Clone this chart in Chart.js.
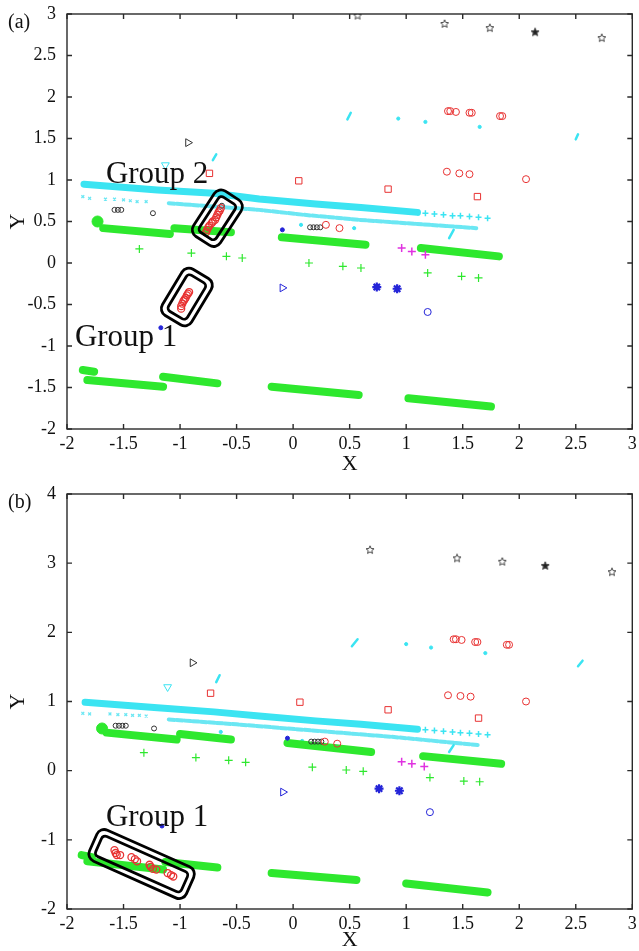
<!DOCTYPE html>
<html>
<head>
<meta charset="utf-8">
<script src="https://cdn.jsdelivr.net/npm/chart.js@4.4.0/dist/chart.umd.min.js"></script>
<style>
  html, body { margin: 0; padding: 0; background: #fff; }
  #wrap { position: relative; width: 639px; height: 951px; overflow: hidden; }
  canvas { position: absolute; left: 0; }
  #chartA { top: 0; }
  #chartB { top: 475px; }
</style>
</head>
<body>
<div id="wrap">
  <canvas id="chartA" width="639" height="475"></canvas>
  <canvas id="chartB" width="639" height="476"></canvas>
</div>
<script>
// ---- tick labels ----
const xTicks = [-2, -1.5, -1, -0.5, 0, 0.5, 1, 1.5, 2, 2.5, 3];
const xTickLabels = ['-2', '-1.5', '-1', '-0.5', '0', '0.5', '1', '1.5', '2', '2.5', '3'];
const yTicksA = [-2, -1.5, -1, -0.5, 0, 0.5, 1, 1.5, 2, 2.5, 3];
const yTickLabelsA = ['-2', '-1.5', '-1', '-0.5', '0', '0.5', '1', '1.5', '2', '2.5', '3'];
const yTicksB = [-2, -1, 0, 1, 2, 3, 4];
const yTickLabelsB = ['-2', '-1', '0', '1', '2', '3', '4'];

// ---- panel (a) data ----
const aUpperBand = [[-1.85, 0.95], [-1.2, 0.88], [-0.7, 0.84], [-0.3, 0.77], [0.2, 0.71], [0.6, 0.67], [1.1, 0.61]];
const aUpperCross = [[1.17, 0.60], [1.25, 0.59], [1.33, 0.58], [1.41, 0.57], [1.48, 0.57], [1.56, 0.56], [1.64, 0.55], [1.72, 0.54]];
const aLowerSparse = [[-1.86, 0.80], [-1.80, 0.78], [-1.66, 0.77], [-1.58, 0.77], [-1.50, 0.76], [-1.44, 0.75], [-1.38, 0.74], [-1.30, 0.74]];
const aLowerBand = [[-1.1, 0.72], [-0.7, 0.68], [-0.3, 0.64], [0.1, 0.58], [0.58, 0.52], [1.1, 0.47], [1.62, 0.42]];
const aCyanDots = [[0.93, 1.74], [1.17, 1.70], [1.65, 1.64], [0.07, 0.46], [0.54, 0.42]];
const aCyanDashes = [[-0.71, 1.24, -0.68, 1.31], [0.48, 1.73, 0.51, 1.81], [2.50, 1.49, 2.52, 1.55], [1.38, 0.30, 1.42, 0.40]];
const aGreenSegs = [
  [-1.68, 0.42, -1.09, 0.35], [-1.05, 0.42, -0.55, 0.37], [-0.10, 0.31, 0.64, 0.22], [1.13, 0.18, 1.82, 0.08],
  [-1.86, -1.29, -1.76, -1.31], [-1.82, -1.41, -1.15, -1.49], [-1.15, -1.37, -0.67, -1.45],
  [-0.19, -1.49, 0.58, -1.59], [1.02, -1.63, 1.75, -1.73]
];
const aGreenBlobs = [[-1.73, 0.50]];
const aGreenPlus = [[-1.36, 0.17], [-0.90, 0.12], [-0.59, 0.08], [-0.45, 0.06], [0.14, 0.0], [0.44, -0.04], [0.60, -0.06], [1.19, -0.12], [1.49, -0.16], [1.64, -0.18]];
const aMagentaPlus = [[0.96, 0.18], [1.05, 0.14], [1.17, 0.10]];
const aBlueStars = [[0.74, -0.29], [0.92, -0.31]];
const aBlueCircles = [[1.19, -0.59]];
const aBlueTriangles = [[-0.095, -0.30]];
const aBlueDots = [[-0.095, 0.40], [-1.17, -0.78]];
const aBlackTriangles = [[-0.93, 1.45]];
const aCyanTriangles = [[-1.13, 1.18]];
const aStars = [[0.57, 2.98], [1.34, 2.88], [1.74, 2.83], [2.73, 2.71]];
const aStarsFilled = [[2.14, 2.78]];
const aRedSquares = [[-0.74, 1.08], [0.05, 0.99], [0.84, 0.89], [1.63, 0.80]];
const aRedCircles = [[1.37, 1.83], [1.39, 1.83], [1.44, 1.82], [1.56, 1.81], [1.58, 1.81], [1.83, 1.77], [1.85, 1.77],
  [1.36, 1.10], [1.47, 1.08], [1.56, 1.07], [2.06, 1.01], [0.29, 0.46], [0.41, 0.42]];
const aGroup2Red = [[-0.77, 0.37], [-0.76, 0.40], [-0.75, 0.43], [-0.74, 0.45], [-0.72, 0.48], [-0.71, 0.50], [-0.69, 0.52],
  [-0.68, 0.55], [-0.67, 0.58], [-0.66, 0.61], [-0.65, 0.63], [-0.64, 0.66]];
const aGroup1Red = [[-0.99, -0.55], [-0.99, -0.52], [-0.98, -0.49], [-0.97, -0.46], [-0.96, -0.44], [-0.95, -0.42], [-0.94, -0.39], [-0.93, -0.37], [-0.92, -0.35]];
const aBlackCircles = [[-1.58, 0.64], [-1.55, 0.64], [-1.52, 0.64], [-1.24, 0.60], [0.15, 0.43], [0.18, 0.43], [0.21, 0.43], [0.24, 0.43], [-0.63, 0.69]];

// ---- panel (b) data ----
const bUpperBand = [[-1.84, 0.99], [-1.2, 0.91], [-0.7, 0.85], [-0.3, 0.79], [0.2, 0.72], [0.6, 0.67], [1.1, 0.60]];
const bUpperCross = [[1.17, 0.59], [1.25, 0.58], [1.33, 0.57], [1.41, 0.56], [1.48, 0.55], [1.56, 0.54], [1.64, 0.53], [1.72, 0.52]];
const bLowerSparse = [[-1.86, 0.83], [-1.80, 0.82], [-1.62, 0.82], [-1.55, 0.81], [-1.48, 0.81], [-1.42, 0.80], [-1.36, 0.80], [-1.30, 0.79]];
const bLowerBand = [[-1.1, 0.74], [-0.5, 0.67], [0.1, 0.59], [0.87, 0.49], [1.64, 0.37]];
const bCyanDots = [[1.0, 1.83], [1.22, 1.78], [1.70, 1.70], [0.08, 0.43], [-0.64, 0.56]];
const bCyanDashes = [[-0.68, 1.28, -0.65, 1.38], [0.52, 1.80, 0.57, 1.90], [2.52, 1.51, 2.56, 1.59], [1.38, 0.27, 1.42, 0.37]];
const bGreenSegs = [
  [-1.65, 0.55, -1.03, 0.45], [-1.0, 0.53, -0.55, 0.45], [-0.05, 0.40, 0.69, 0.27], [1.15, 0.21, 1.84, 0.10],
  [-1.87, -1.22, -1.78, -1.25], [-1.82, -1.31, -1.15, -1.43], [-1.13, -1.32, -0.67, -1.40],
  [-0.19, -1.48, 0.56, -1.58], [1.00, -1.63, 1.72, -1.76]
];
const bGreenBlobs = [[-1.69, 0.61]];
const bGreenPlus = [[-1.32, 0.26], [-0.86, 0.19], [-0.57, 0.15], [-0.42, 0.12], [0.17, 0.05], [0.47, 0.01], [0.62, -0.01], [1.21, -0.10], [1.51, -0.15], [1.65, -0.16]];
const bMagentaPlus = [[0.96, 0.13], [1.05, 0.10], [1.16, 0.06]];
const bBlueStars = [[0.76, -0.26], [0.94, -0.29]];
const bBlueCircles = [[1.21, -0.60]];
const bBlueTriangles = [[-0.09, -0.31]];
const bBlueDots = [[-0.05, 0.47], [-1.16, -0.80]];
const bBlackTriangles = [[-0.89, 1.56]];
const bCyanTriangles = [[-1.11, 1.21]];
const bStars = [[0.68, 3.19], [1.45, 3.07], [1.85, 3.02], [2.82, 2.87]];
const bStarsFilled = [[2.23, 2.96]];
const bRedSquares = [[-0.73, 1.12], [0.06, 0.99], [0.84, 0.88], [1.64, 0.76]];
const bRedCircles = [[1.42, 1.90], [1.44, 1.90], [1.49, 1.89], [1.61, 1.86], [1.63, 1.86], [1.89, 1.82], [1.91, 1.82],
  [1.37, 1.09], [1.48, 1.08], [1.57, 1.07], [2.06, 1.00], [0.28, 0.42], [0.39, 0.39]];
const bGroup1Red = [[-1.58, -1.15], [-1.57, -1.19], [-1.56, -1.22], [-1.53, -1.22], [-1.43, -1.25], [-1.40, -1.28], [-1.38, -1.31],
  [-1.27, -1.36], [-1.26, -1.39], [-1.24, -1.42], [-1.21, -1.43], [-1.11, -1.48], [-1.08, -1.51], [-1.06, -1.53]];
const bBlackCircles = [[-1.57, 0.65], [-1.54, 0.65], [-1.51, 0.65], [-1.48, 0.65], [-1.23, 0.61], [0.16, 0.42], [0.19, 0.42], [0.22, 0.42], [0.25, 0.42]];

// ---- colours ----
const CYAN = '#3be4f2', CYAN_LOW = 'rgba(70,225,240,0.8)', GREEN = '#2ee82e', RED = '#e83232';
const BLUE = '#2424d8', MAGENTA = '#e032e0', DARK = '#333';

// pentagram marker (MATLAB 'p')
function starImg(filled) {
  const c = document.createElement('canvas');
  c.width = c.height = 10;
  const g = c.getContext('2d');
  g.beginPath();
  for (let i = 0; i < 10; i++) {
    const r = i % 2 ? 1.9 : 4.2;
    const a = -Math.PI / 2 + i * Math.PI / 5;
    g.lineTo(5 + r * Math.cos(a), 5 + r * Math.sin(a));
  }
  g.closePath();
  g.lineWidth = 1;
  g.strokeStyle = '#444';
  if (filled) { g.fillStyle = '#222'; g.fill(); }
  g.stroke();
  return c;
}
const STAR_OPEN = starImg(false), STAR_FILLED = starImg(true);

const pts = arr => arr.map(([x, y]) => ({ x, y }));

function marks(arr, style) {
  return Object.assign({ data: pts(arr), showLine: false, borderWidth: 1 }, style);
}
function line(arr, style) {
  return Object.assign({ data: pts(arr), showLine: true, pointRadius: 0, tension: 0, borderCapStyle: 'round', borderJoinStyle: 'round' }, style);
}
function segs(list, style) {
  return list.map(s => line([[s[0], s[1]], [s[2], s[3]]], style));
}

function buildDatasets(d) {
  const open = 'rgba(0,0,0,0)';
  return [
    // boxed groups and red circles on top
    marks(d.group, { pointStyle: 'circle', pointRadius: 3.5, borderColor: RED, backgroundColor: open, pointBorderWidth: 1.3 }),
    marks(d.redCircles, { pointStyle: 'circle', pointRadius: 3.5, borderColor: RED, backgroundColor: open }),
    marks(d.redSquares, { pointStyle: 'rect', pointRadius: 4.5, borderColor: RED, backgroundColor: open }),
    marks(d.blackCircles, { pointStyle: 'circle', pointRadius: 2.5, borderColor: DARK, backgroundColor: open }),
    marks(d.stars, { pointStyle: STAR_OPEN }),
    marks(d.starsFilled, { pointStyle: STAR_FILLED }),
    marks(d.blackTri, { pointStyle: 'triangle', rotation: 90, pointRadius: 4.5, borderColor: DARK, backgroundColor: open }),
    marks(d.cyanTri, { pointStyle: 'triangle', rotation: 180, pointRadius: 4.5, borderColor: CYAN, backgroundColor: open }),
    marks(d.blueStars, { pointStyle: 'star', pointRadius: 4.5, borderColor: BLUE, backgroundColor: BLUE, pointBorderWidth: 2.2 }),
    marks(d.blueCircles, { pointStyle: 'circle', pointRadius: 3.5, borderColor: BLUE, backgroundColor: open }),
    marks(d.blueTri, { pointStyle: 'triangle', rotation: 90, pointRadius: 4.5, borderColor: BLUE, backgroundColor: open }),
    marks(d.blueDots, { pointStyle: 'circle', pointRadius: 2, borderColor: BLUE, backgroundColor: BLUE }),
    marks(d.magenta, { pointStyle: 'cross', pointRadius: 4, borderColor: MAGENTA, pointBorderWidth: 1.5 }),
    marks(d.greenPlus, { pointStyle: 'cross', pointRadius: 4, borderColor: GREEN, pointBorderWidth: 1.2 }),
    marks(d.greenBlobs, { pointStyle: 'circle', pointRadius: 5.5, borderColor: GREEN, backgroundColor: GREEN }),
    ...segs(d.greenSegs, { borderColor: GREEN, borderWidth: 8 }),
    marks(d.cyanDots, { pointStyle: 'circle', pointRadius: 1.6, borderColor: CYAN, backgroundColor: CYAN }),
    ...segs(d.cyanDashes, { borderColor: CYAN, borderWidth: 2.5 }),
    marks(d.upperCross, { pointStyle: 'cross', pointRadius: 3, borderColor: CYAN, pointBorderWidth: 1.5 }),
    line(d.upperBand, { borderColor: CYAN, borderWidth: 7 }),
    marks(d.lowerSparse, { pointStyle: 'crossRot', pointRadius: 2, borderColor: CYAN_LOW, pointBorderWidth: 1.3 }),
    line(d.lowerBand, { borderColor: CYAN_LOW, borderWidth: 4, borderDash: [6, 2] })
  ];
}

function roundRect(ctx, x, y, w, h, r) {
  ctx.beginPath();
  ctx.moveTo(x + r, y);
  ctx.arcTo(x + w, y, x + w, y + h, r);
  ctx.arcTo(x + w, y + h, x, y + h, r);
  ctx.arcTo(x, y + h, x, y, r);
  ctx.arcTo(x, y, x + w, y, r);
  ctx.closePath();
}

// MATLAB style box, inward ticks, group boxes and notes
const framePlugin = {
  id: 'frame',
  afterDatasetsDraw(chart, args, o) {
    const { ctx, chartArea: ca, scales: { x, y } } = chart;
    ctx.save();
    ctx.strokeStyle = '#000';
    ctx.lineWidth = 2.8;
    o.boxes.forEach(b => {
      ctx.save();
      ctx.translate(x.getPixelForValue(b.x), y.getPixelForValue(b.y));
      ctx.rotate(-b.angle * Math.PI / 180);
      roundRect(ctx, -b.len / 2, -b.wid / 2, b.len, b.wid, 8);
      ctx.stroke();
      roundRect(ctx, -b.len / 2 + 6, -b.wid / 2 + 6, b.len - 12, b.wid - 12, 4);
      ctx.stroke();
      ctx.restore();
    });
    ctx.fillStyle = '#111';
    ctx.font = '31px "Liberation Serif"';
    ctx.textAlign = 'left';
    ctx.textBaseline = 'middle';
    o.notes.forEach(n => ctx.fillText(n.text, x.getPixelForValue(n.x), y.getPixelForValue(n.y)));

    ctx.strokeStyle = '#2a2a2a';
    ctx.lineWidth = 1.4;
    ctx.strokeRect(ca.left, ca.top, ca.width, ca.height);
    const t = 5;
    ctx.beginPath();
    x.ticks.forEach(tk => {
      const px = x.getPixelForValue(tk.value);
      ctx.moveTo(px, ca.bottom); ctx.lineTo(px, ca.bottom - t);
      ctx.moveTo(px, ca.top); ctx.lineTo(px, ca.top + t);
    });
    y.ticks.forEach(tk => {
      const py = y.getPixelForValue(tk.value);
      ctx.moveTo(ca.left, py); ctx.lineTo(ca.left + t, py);
      ctx.moveTo(ca.right, py); ctx.lineTo(ca.right - t, py);
    });
    ctx.stroke();

    ctx.font = '20px "Liberation Serif"';
    ctx.fillText(o.tag, 8, ca.top + 9);
    ctx.restore();
  }
};

function makeChart(id, datasets, yTicks, yLabels, pad, xHeight, frameOpts) {
  const font = { family: '"Liberation Serif", "Times New Roman", serif', size: 18 };
  const titleFont = { family: '"Liberation Serif", "Times New Roman", serif', size: 22, lineHeight: 1 };
  return new Chart(document.getElementById(id), {
    type: 'scatter',
    data: { datasets },
    options: {
      responsive: false,
      animation: false,
      layout: { padding: pad },
      plugins: { legend: { display: false }, tooltip: { enabled: false }, frame: frameOpts },
      scales: {
        x: {
          type: 'linear', min: -2, max: 3,
          afterBuildTicks: s => { s.ticks = xTicks.map(v => ({ value: v })); },
          afterFit: s => { s.height = xHeight; },
          grid: { display: false }, border: { display: false },
          ticks: { font, color: '#111', padding: -4, maxRotation: 0, autoSkip: false, callback: (v, i) => xTickLabels[i] },
          title: { display: true, text: 'X', font: titleFont, color: '#111', padding: { top: 0, bottom: 0 } }
        },
        y: {
          type: 'linear', min: yTicks[0], max: yTicks[yTicks.length - 1],
          afterBuildTicks: s => { s.ticks = yTicks.map(v => ({ value: v })); },
          afterFit: s => { s.width = 67; },
          grid: { display: false }, border: { display: false },
          ticks: { font, color: '#111', padding: 3, autoSkip: false, callback: (v, i) => yLabels[i] },
          title: { display: true, text: 'Y', font: titleFont, color: '#111', padding: { top: 7, bottom: 0 } }
        }
      }
    },
    plugins: [framePlugin]
  });
}

const dataA = {
  group: aGroup2Red.concat(aGroup1Red), redCircles: aRedCircles, redSquares: aRedSquares, blackCircles: aBlackCircles,
  stars: aStars, starsFilled: aStarsFilled, blackTri: aBlackTriangles, cyanTri: aCyanTriangles, blueStars: aBlueStars,
  blueCircles: aBlueCircles, blueTri: aBlueTriangles, blueDots: aBlueDots, magenta: aMagentaPlus, greenPlus: aGreenPlus,
  greenBlobs: aGreenBlobs, greenSegs: aGreenSegs, cyanDots: aCyanDots, cyanDashes: aCyanDashes, upperCross: aUpperCross,
  upperBand: aUpperBand, lowerSparse: aLowerSparse, lowerBand: aLowerBand
};
const dataB = {
  group: bGroup1Red, redCircles: bRedCircles, redSquares: bRedSquares, blackCircles: bBlackCircles,
  stars: bStars, starsFilled: bStarsFilled, blackTri: bBlackTriangles, cyanTri: bCyanTriangles, blueStars: bBlueStars,
  blueCircles: bBlueCircles, blueTri: bBlueTriangles, blueDots: bBlueDots, magenta: bMagentaPlus, greenPlus: bGreenPlus,
  greenBlobs: bGreenBlobs, greenSegs: bGreenSegs, cyanDots: bCyanDots, cyanDashes: bCyanDashes, upperCross: bUpperCross,
  upperBand: bUpperBand, lowerSparse: bLowerSparse, lowerBand: bLowerBand
};

makeChart('chartA', buildDatasets(dataA), yTicksA, yTickLabelsA, { top: 14, right: 5, left: 0, bottom: 0 }, 46, {
  tag: '(a)',
  notes: [{ text: 'Group 2', x: -1.656, y: 1.06 }, { text: 'Group 1', x: -1.93, y: -0.90 }],
  boxes: [{ x: -0.67, y: 0.54, len: 54, wid: 32, angle: 57 }, { x: -0.94, y: -0.41, len: 54, wid: 34, angle: 59 }]
});
makeChart('chartB', buildDatasets(dataB), yTicksB, yTickLabelsB, { top: 19, right: 4, left: 0, bottom: 0 }, 42, {
  tag: '(b)',
  notes: [{ text: 'Group 1', x: -1.656, y: -0.68 }],
  boxes: [{ x: -1.34, y: -1.35, len: 106, wid: 34, angle: -24 }]
});
</script>
</body>
</html>
